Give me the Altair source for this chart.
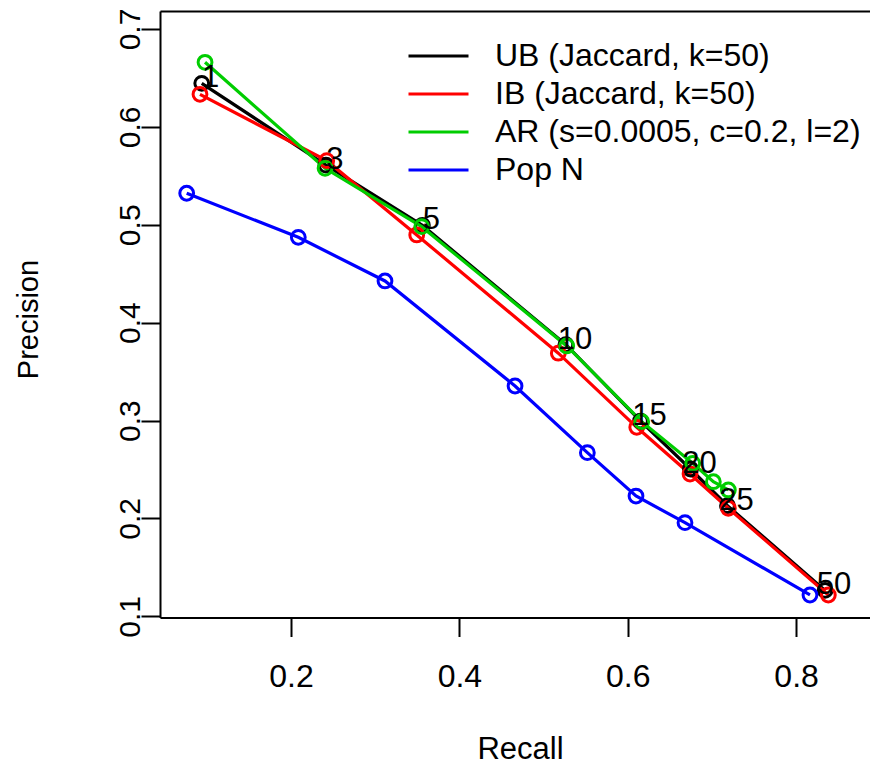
import altair as alt
import pandas as pd

series_names = ["UB (Jaccard, k=50)", "IB (Jaccard, k=50)", "AR (s=0.0005, c=0.2, l=2)", "Pop N"]
series_colors = ["#000000", "#FF0000", "#00CD00", "#0000FF"]
n_labels = ["1", "3", "5", "10", "15", "20", "25", "50"]

ub_recall = [0.0939, 0.2415, 0.3560, 0.5265, 0.6152, 0.6745, 0.7185, 0.8344]
ub_precision = [0.6445, 0.5610, 0.4995, 0.3775, 0.2995, 0.2505, 0.2130, 0.1265]
ib_recall = [0.0918, 0.2424, 0.3493, 0.5175, 0.6107, 0.6740, 0.7195, 0.8383]
ib_precision = [0.6333, 0.5655, 0.4896, 0.3688, 0.2931, 0.2454, 0.2104, 0.1218]
ar_recall = [0.0978, 0.2404, 0.3552, 0.5275, 0.6166, 0.6772, 0.7017, 0.7195]
ar_precision = [0.6660, 0.5577, 0.4981, 0.3762, 0.2989, 0.2563, 0.2375, 0.2291]
pop_recall = [0.0760, 0.2086, 0.3116, 0.4661, 0.5520, 0.6098, 0.6680, 0.8165]
pop_precision = [0.5322, 0.4872, 0.4426, 0.3353, 0.2672, 0.2229, 0.1957, 0.1218]

x_ticks = [0.2, 0.4, 0.6, 0.8]
y_ticks = [0.1, 0.2, 0.3, 0.4, 0.5, 0.6, 0.7]
x_domain = [0.0443, 0.8878]
y_domain = [0.0988, 0.7184]

rows = []
for s, (name, xs, ys) in enumerate(zip(series_names,
                        [ub_recall, ib_recall, ar_recall, pop_recall],
                        [ub_precision, ib_precision, ar_precision, pop_precision])):
    for i, (xv, yv) in enumerate(zip(xs, ys)):
        rows.append({"series": name, "recall": xv, "precision": yv, "idx": i,
                     "draw": s * 100 + i})
df = pd.DataFrame(rows)
lab_df = pd.DataFrame({"recall": ub_recall, "precision": ub_precision, "lab": n_labels})

FONT = "Liberation Sans"
FS = 31
LFS = 32
VFS = 30

color = alt.Color(
    "series:N",
    scale=alt.Scale(domain=series_names, range=series_colors),
    legend=alt.Legend(
        title=None, orient="none", legendX=247, legendY=26,
        symbolType="stroke", symbolSize=3600, symbolStrokeWidth=3,
        labelFontSize=LFS, labelFont=FONT, labelColor="black",
        labelOffset=25, labelLimit=0, rowPadding=0, clipHeight=38,
    ),
)

xenc = alt.X(
    "recall:Q",
    scale=alt.Scale(domain=x_domain, nice=False, zero=False),
    axis=alt.Axis(
        values=x_ticks, format=".1f", title="Recall", grid=False,
        tickSize=19, tickWidth=2, tickColor="black",
        domain=True, domainWidth=2, domainColor="black",
        labelFontSize=LFS, labelFont=FONT, labelColor="black",
        labelBaseline="middle", labelPadding=40,
        titleFontSize=FS, titleFont=FONT, titleFontWeight="normal", titleColor="black",
        titleX=360, titleY=132, titleBaseline="middle", titleAlign="center",
    ),
)
yenc = alt.Y(
    "precision:Q",
    scale=alt.Scale(domain=y_domain, nice=False, zero=False),
    axis=alt.Axis(
        values=y_ticks, format=".1f", title="Precision", grid=False,
        tickSize=19, tickWidth=2, tickColor="black",
        domain=True, domainWidth=2, domainColor="black",
        labelFontSize=VFS, labelFont=FONT, labelColor="black",
        labelAngle=270, labelAlign="center", labelBaseline="middle", labelPadding=11,
        titleFontSize=29, titleFont=FONT, titleFontWeight="normal", titleColor="black",
        titleAngle=270, titleX=-132, titleY=308, titleBaseline="middle", titleAlign="center",
    ),
)

lines = alt.Chart(df).mark_line(strokeWidth=3.2).encode(
    x=xenc, y=yenc, color=color, order="idx:Q"
)
points = alt.Chart(df).mark_point(filled=False, size=190, strokeWidth=3, opacity=1).encode(
    x=xenc, y=yenc, color=color, order=alt.Order("draw:Q", sort="ascending")
)
labels = alt.Chart(lab_df).mark_text(
    align="center", baseline="alphabetic", dx=9, dy=4, fontSize=FS, font=FONT, color="black"
).encode(x=xenc, y=yenc, text="lab:N")

main = alt.layer(lines, points, labels)

top_border = alt.Chart(df).mark_point(opacity=0).encode(
    x=alt.X("recall:Q", scale=alt.Scale(domain=x_domain, nice=False, zero=False),
            axis=alt.Axis(orient="top", labels=False, ticks=False, title=None, grid=False,
                          domain=True, domainWidth=2, domainColor="black")),
    y=yenc,
)

chart = alt.layer(main, top_border).resolve_axis(x="independent").properties(
    width=710, height=606.5,
    autosize=alt.AutoSizeParams(type="none"),
    padding={"left": 160, "top": 11, "right": 0, "bottom": 149},
).configure_view(strokeWidth=0).configure(background="white")

chart.save("out.html", embed_options={"renderer": "svg", "actions": False})
